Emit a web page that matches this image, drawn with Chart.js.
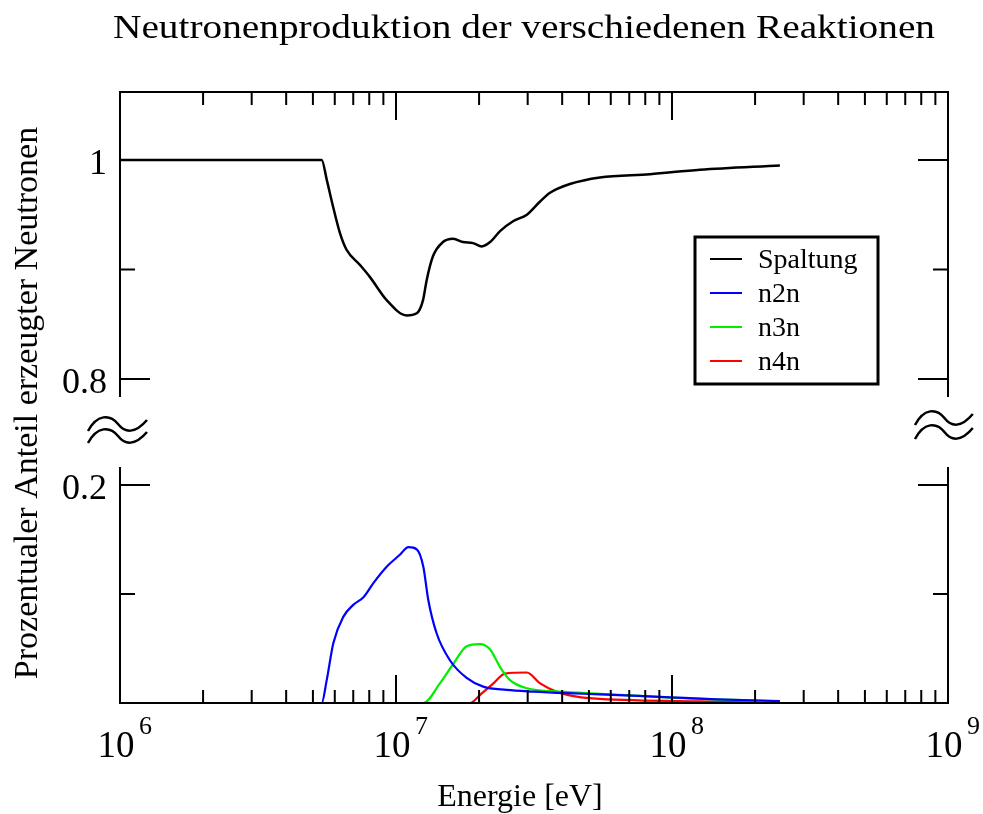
<!DOCTYPE html>
<html>
<head>
<meta charset="utf-8">
<script src="https://cdn.jsdelivr.net/npm/chart.js@4.4.1/dist/chart.umd.min.js"></script>
<style>
  html, body { margin: 0; padding: 0; background: #fff; }
</style>
</head>
<body>
<canvas id="c" width="983" height="814"></canvas>
<script>
// energies in eV, values as fraction of produced neutrons
const spaltungE = [1e6, 5.38e6, 5.61e6, 5.92e6, 6.27e6, 6.62e6, 7.41e6, 8.05e6, 9.25e6, 1.094e7, 1.189e7, 1.253e7, 1.291e7, 1.361e7, 1.479e7, 1.611e7, 1.75e7, 1.901e7, 2.046e7, 2.193e7, 2.382e7, 2.655e7, 2.979e7, 3.327e7, 3.614e7, 4.266e7, 5.48e7, 8.32e7, 1.262e8, 2.46e8];
const spaltungY = [1, 1, 0.982, 0.957, 0.933, 0.918, 0.904, 0.893, 0.872, 0.858, 0.86, 0.872, 0.89, 0.912, 0.925, 0.928, 0.925, 0.924, 0.921, 0.925, 0.935, 0.944, 0.95, 0.962, 0.97, 0.978, 0.984, 0.987, 0.991, 0.995];

const n2nE = [1e6, 5.38e6, 5.61e6, 5.93e6, 6.44e6, 7.0e6, 7.62e6, 8.28e6, 9.25e6, 1.033e7, 1.109e7, 1.189e7, 1.256e7, 1.309e7, 1.403e7, 1.57e7, 1.803e7, 2.07e7, 2.518e7, 3.14e7, 4.15e7, 5.48e7, 9.84e7, 1.452e8, 2.46e8];
const n2nY = [0, 0, 0.021, 0.055, 0.079, 0.09, 0.097, 0.11, 0.125, 0.136, 0.143, 0.141, 0.125, 0.0945, 0.064, 0.039, 0.023, 0.015, 0.012, 0.0104, 0.009, 0.008, 0.0052, 0.0034, 0.0018];

const n3nE = [1e6, 1.256e7, 1.442e7, 1.614e7, 1.803e7, 2.014e7, 2.193e7, 2.382e7, 2.588e7, 2.979e7, 3.926e7, 5.48e7, 9.84e7, 2.46e8];
const n3nY = [0, 0, 0.018, 0.036, 0.052, 0.054, 0.049, 0.033, 0.021, 0.0135, 0.0104, 0.0085, 0.005, 0.0015];

const n4nE = [1e6, 1.854e7, 2.014e7, 2.254e7, 2.483e7, 2.979e7, 3.327e7, 3.82e7, 4.52e7, 5.48e7, 1.262e8, 2.46e8];
const n4nY = [0, 0, 0.0073, 0.018, 0.027, 0.028, 0.018, 0.0104, 0.0058, 0.0037, 0.0014, 0.001];

const seriesNames = ['Spaltung', 'n2n', 'n3n', 'n4n'];
const seriesColors = ['#000000', '#0000ff', '#00ee00', '#ff0000'];

const decades = [6, 7, 8, 9];
const topTicks = [0.8, 1];        // labelled, upper part
const topMinor = [0.9];
const botTicks = [0.2];           // labelled, lower part
const botMinor = [0.1];
const topCut = 0.7836;            // where the upper part ends
const botCut = 0.2165;            // where the lower part starts

const titleText = 'Neutronenproduktion der verschiedenen Reaktionen';
const xTitle = 'Energie [eV]';
const yTitle = 'Prozentualer Anteil erzeugter Neutronen';

const pts = (e, v) => e.map((x, i) => ({x: x, y: v[i]}));
const serif = '"Liberation Serif", "Times New Roman", serif';

function wave(ctx, x0, y0, s) {
  ctx.beginPath();
  ctx.moveTo(x0, y0);
  ctx.bezierCurveTo(x0 + 9 * s, y0 - 17, x0 + 22 * s, y0 - 17, x0 + 30 * s, y0 - 7);
  ctx.bezierCurveTo(x0 + 37 * s, y0 + 2, x0 + 47 * s, y0 + 3, x0 + 59 * s, y0 - 11);
  ctx.stroke();
}

function fitText(ctx, text, cx, y, w) {
  const nat = ctx.measureText(text).width;
  ctx.save();
  ctx.translate(cx, y);
  ctx.scale(w / nat, 1);
  ctx.textAlign = 'center';
  ctx.fillText(text, 0, 0);
  ctx.restore();
}

const frame = {
  id: 'frame',
  afterDatasetsDraw(chart) {
    const {ctx, chartArea: a, scales} = chart;
    const sx = scales.x, yt = scales.yTop, yb = scales.yBot;
    const gap1 = yt.getPixelForValue(topCut);
    const gap2 = yb.getPixelForValue(botCut);
    ctx.save();
    ctx.strokeStyle = '#000';
    ctx.fillStyle = '#000';
    ctx.lineWidth = 2;
    ctx.lineCap = 'butt';

    // box with the break
    ctx.beginPath();
    ctx.moveTo(a.left, gap1); ctx.lineTo(a.left, a.top); ctx.lineTo(a.right, a.top); ctx.lineTo(a.right, gap1);
    ctx.moveTo(a.left, gap2); ctx.lineTo(a.left, a.bottom); ctx.lineTo(a.right, a.bottom); ctx.lineTo(a.right, gap2);
    ctx.stroke();

    // x ticks top and bottom
    ctx.beginPath();
    decades.forEach((d, i) => {
      const px = sx.getPixelForValue(Math.pow(10, d));
      if (i > 0 && i < decades.length - 1) {
        ctx.moveTo(px, a.bottom); ctx.lineTo(px, a.bottom - 28);
        ctx.moveTo(px, a.top); ctx.lineTo(px, a.top + 28);
      }
      if (i < decades.length - 1) {
        for (let k = 2; k <= 9; k++) {
          const mx = sx.getPixelForValue(k * Math.pow(10, d));
          ctx.moveTo(mx, a.bottom); ctx.lineTo(mx, a.bottom - 13);
          ctx.moveTo(mx, a.top); ctx.lineTo(mx, a.top + 13);
        }
      }
    });
    // y ticks left and right
    const yTick = (py, len) => {
      ctx.moveTo(a.left, py); ctx.lineTo(a.left + len, py);
      ctx.moveTo(a.right, py); ctx.lineTo(a.right - len, py);
    };
    topTicks.forEach(v => yTick(yt.getPixelForValue(v), 30));
    topMinor.forEach(v => yTick(yt.getPixelForValue(v), 15));
    botTicks.forEach(v => yTick(yb.getPixelForValue(v), 30));
    botMinor.forEach(v => yTick(yb.getPixelForValue(v), 15));
    ctx.stroke();

    // break marks
    ctx.lineWidth = 2.5;
    wave(ctx, 88, 431, 1);
    wave(ctx, 88, 443, 1);
    wave(ctx, 915, 425, 0.98);
    wave(ctx, 915, 439, 0.98);

    // y tick labels
    ctx.font = '36px ' + serif;
    ctx.textAlign = 'right';
    ctx.textBaseline = 'alphabetic';
    topTicks.forEach(v => ctx.fillText(String(v), 107, yt.getPixelForValue(v) + 14));
    botTicks.forEach(v => ctx.fillText(String(v), 107, yb.getPixelForValue(v) + 14));

    // x tick labels 10^n
    decades.forEach(d => {
      const px = sx.getPixelForValue(Math.pow(10, d));
      ctx.font = '37px ' + serif;
      ctx.textAlign = 'center';
      ctx.fillText('10', px - 4, 757);
      ctx.font = '26px ' + serif;
      ctx.textAlign = 'left';
      ctx.fillText(String(d), px + 19, 734);
    });

    // titles
    ctx.font = '33px ' + serif;
    fitText(ctx, titleText, 524, 38, 822);
    ctx.font = '32px ' + serif;
    ctx.textAlign = 'center';
    ctx.fillText(xTitle, 520, 806);
    ctx.save();
    ctx.translate(37, 403);
    ctx.rotate(-Math.PI / 2);
    ctx.font = '34px ' + serif;
    ctx.fillText(yTitle, 0, 0);
    ctx.restore();

    // legend
    const lx = 695, ly = 237, lw = 183, lh = 147;
    ctx.fillStyle = '#fff';
    ctx.fillRect(lx, ly, lw, lh);
    ctx.lineWidth = 3;
    ctx.strokeStyle = '#000';
    ctx.strokeRect(lx, ly, lw, lh);
    ctx.font = '28px ' + serif;
    ctx.textAlign = 'left';
    chart.data.datasets.forEach((ds, i) => {
      const ry = 259 + i * 34;
      ctx.strokeStyle = ds.borderColor;
      ctx.lineWidth = 2;
      ctx.beginPath();
      ctx.moveTo(710, ry); ctx.lineTo(742, ry);
      ctx.stroke();
      ctx.fillStyle = '#000';
      ctx.fillText(ds.label, 758, ry + 9);
    });
    ctx.restore();
  }
};

const lineDs = (i, data, axis, w) => ({
  label: seriesNames[i],
  data: data,
  yAxisID: axis,
  borderColor: seriesColors[i],
  borderWidth: w,
  pointRadius: 0,
  fill: false,
  cubicInterpolationMode: 'monotone'
});

new Chart(document.getElementById('c'), {
  type: 'line',
  data: {
    datasets: [
      lineDs(0, pts(spaltungE, spaltungY), 'yTop', 2.5),
      lineDs(1, pts(n2nE, n2nY), 'yBot', 2.2),
      lineDs(2, pts(n3nE, n3nY), 'yBot', 2.2),
      lineDs(3, pts(n4nE, n4nY), 'yBot', 2.2)
    ]
  },
  options: {
    responsive: false,
    animation: false,
    layout: { padding: { left: 120, right: 35, top: 92, bottom: 111 } },
    plugins: { legend: { display: false }, title: { display: false }, tooltip: { enabled: false } },
    scales: {
      x: { type: 'logarithmic', min: 1e6, max: 1e9, display: false },
      // left boxes are stacked in reverse order, so the lower part comes first
      yBot: { type: 'linear', position: 'left', stack: 'y', stackWeight: 271, min: 0, max: 0.2486, display: false },
      yTop: { type: 'linear', position: 'left', stack: 'y', stackWeight: 340, min: 0.7516, max: 1.062, display: false }
    }
  },
  plugins: [frame]
});
</script>
</body>
</html>
